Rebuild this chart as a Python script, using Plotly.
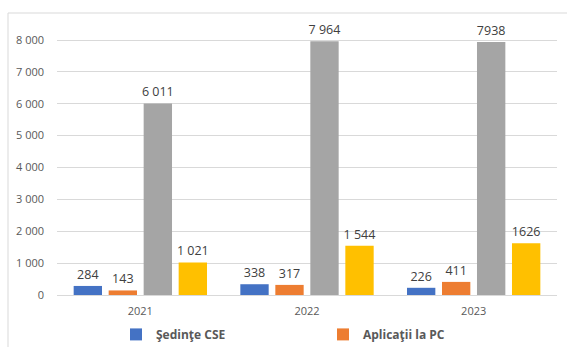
import plotly.graph_objects as go

years = ["2021", "2022", "2023"]
sedinte_cse = [284, 338, 226]
aplicatii_pc = [143, 317, 411]
serie_gri = [6011, 7964, 7938]
serie_galben = [1021, 1544, 1626]

lbl_sedinte = ["284", "338", "226"]
lbl_aplicatii = ["143", "317", "411"]
lbl_gri = ["6 011", "7 964", "7938"]
lbl_galben = ["1 021", "1 544", "1626"]

y_ticks = [0, 1000, 2000, 3000, 4000, 5000, 6000, 7000, 8000]
y_ticktext = ["0", "1 000", "2 000", "3 000", "4 000", "5 000", "6 000", "7 000", "8 000"]

label_font = dict(family="Open Sans, Liberation Sans, sans-serif", size=12.5, color="#404040")

fig = go.Figure()
series = [
    ("Şedinţe CSE", sedinte_cse, lbl_sedinte, "#4472C4", True),
    ("Aplicaţii la PC", aplicatii_pc, lbl_aplicatii, "#ED7D31", True),
    ("Serie 3", serie_gri, lbl_gri, "#A5A5A5", False),
    ("Serie 4", serie_galben, lbl_galben, "#FFC000", False),
]
for name, vals, lbls, color, show in series:
    fig.add_trace(go.Bar(
        x=years, y=vals, name=name, text=lbls, textposition="outside",
        textfont=label_font, marker=dict(color=color, line=dict(width=0)),
        showlegend=show, cliponaxis=False, textangle=0, constraintext="none",
    ))

top_y = (295 - 13) / 265
left_x = -49 / 500

fig.update_layout(
    width=567, height=347,
    margin=dict(l=57, r=10, t=30, b=52, autoexpand=False),
    paper_bgcolor="white", plot_bgcolor="white",
    barmode="group", bargap=0.16, bargroupgap=0.19,
    font=dict(family="Open Sans, Liberation Sans, sans-serif", color="#595959"),
    legend=dict(orientation="h", x=0.118, y=-0.094, xanchor="left", yanchor="top",
                entrywidth=162, entrywidthmode="pixels",
                font=dict(size=12, color="#595959", family="Open Sans, sans-serif", weight="bold"),
                itemwidth=30, traceorder="normal"),
    xaxis=dict(showgrid=False, showline=True, linecolor="#D9D9D9", linewidth=1,
               tickfont=dict(size=11, color="#595959"), ticks="", automargin=False,
               ticklabelstandoff=6),
    yaxis=dict(range=[0, 8314], tickvals=y_ticks, ticktext=y_ticktext,
               showgrid=True, gridcolor="#D9D9D9", gridwidth=1, zeroline=False,
               tickfont=dict(size=11, color="#595959"), ticklabelstandoff=12,
               showline=False, automargin=False),
    shapes=[
        dict(type="line", xref="paper", yref="paper", x0=left_x, x1=1.03, y0=top_y, y1=top_y,
             line=dict(color="#D9D9D9", width=1)),
        dict(type="line", xref="paper", yref="paper", x0=left_x, x1=left_x, y0=top_y, y1=-52 / 265,
             line=dict(color="#D9D9D9", width=1)),
    ],
)

fig.write_html("out.html", config={"displayModeBar": False},
               post_script="document.body.style.margin='0px';document.body.style.overflow='hidden';")
